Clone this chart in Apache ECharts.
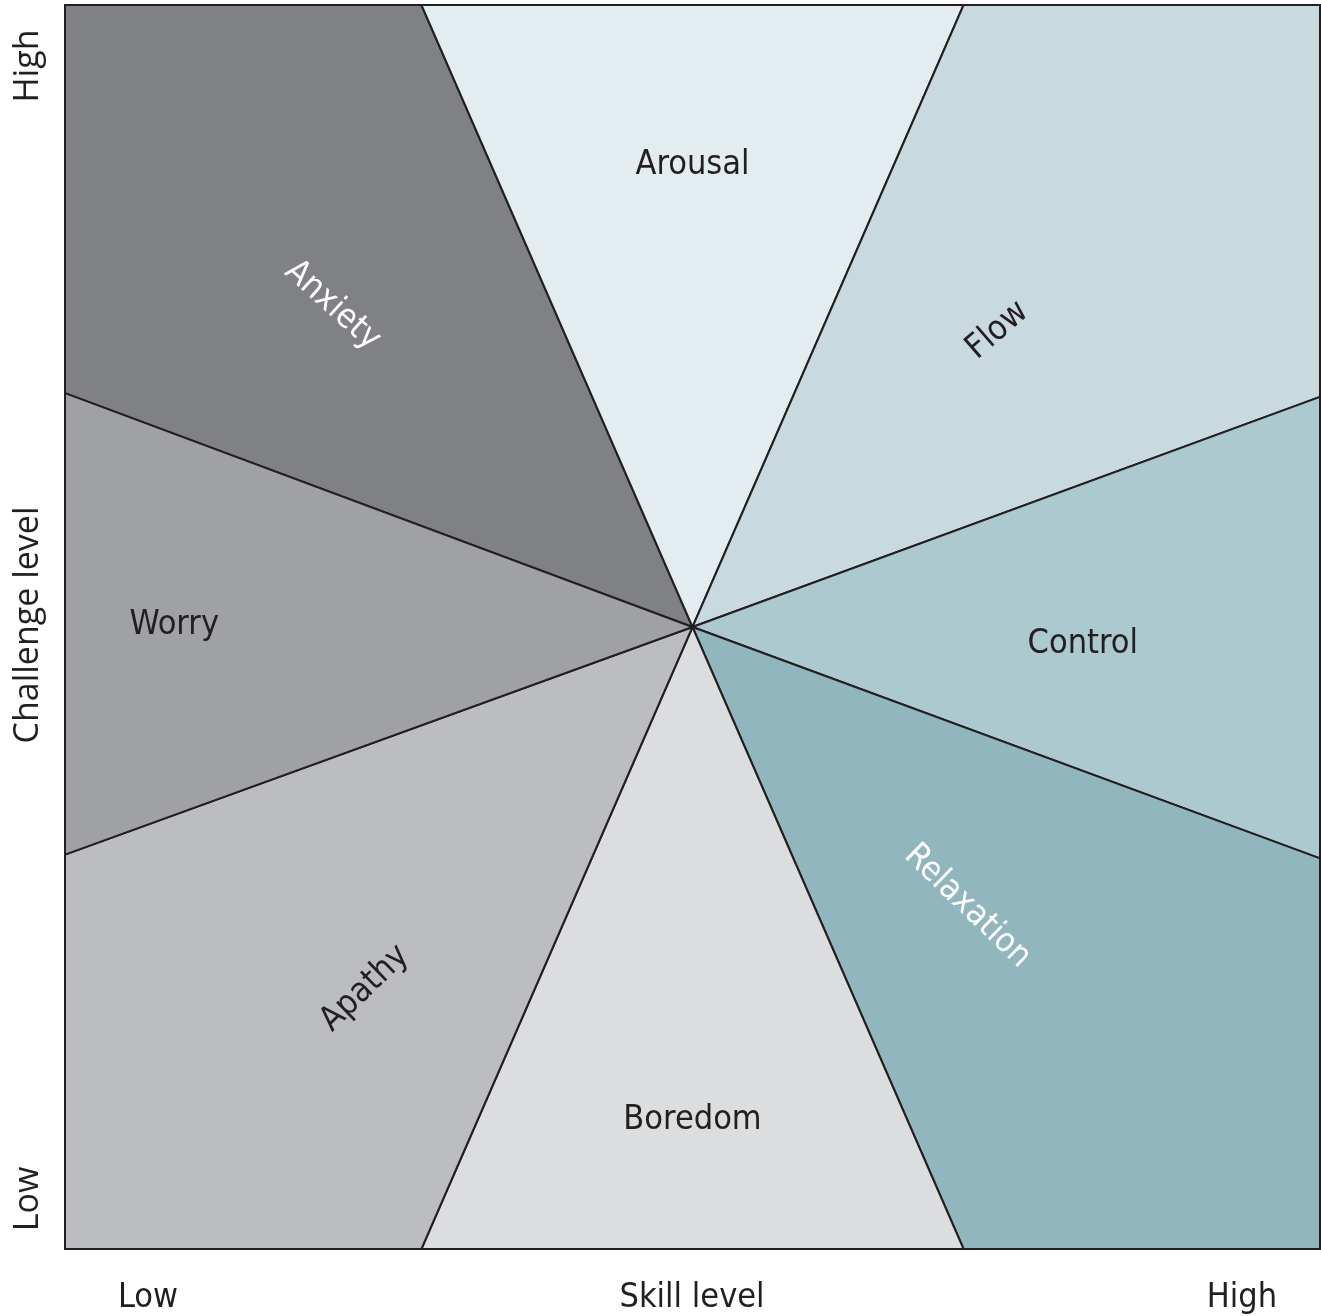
<!DOCTYPE html>
<html>
<head>
<meta charset="utf-8">
<script src="https://cdn.jsdelivr.net/npm/echarts@6/dist/echarts.min.js"></script>
<style>html,body{margin:0;padding:0;background:#fff;}#chart{width:1321px;height:1316px;}</style>
</head>
<body>
<div id="chart"></div>
<script>
// Regions of the flow model (skill level vs challenge level, 0..100 scale)
const regions = ['Anxiety', 'Arousal', 'Flow', 'Control', 'Relaxation', 'Boredom', 'Apathy', 'Worry'];
const regionColors = ['#808185', '#e3ecee', '#c8dadf', '#abc9ce', '#91b6bd', '#dcdddf', '#bcbdc1', '#a0a1a5'];
const labelColors = ['#ffffff', '#231f20', '#231f20', '#231f20', '#ffffff', '#231f20', '#231f20', '#231f20'];
// polygon vertices of each region, in [skill, challenge] values
const centre = [50, 50];
const regionVertices = [
  [centre, [0, 68.8], [0, 100], [28.4, 100]],
  [centre, [28.4, 100], [71.6, 100]],
  [centre, [71.6, 100], [100, 100], [100, 68.5]],
  [centre, [100, 68.5], [100, 31.4]],
  [centre, [100, 31.4], [100, 0], [71.6, 0]],
  [centre, [71.6, 0], [28.4, 0]],
  [centre, [28.4, 0], [0, 0], [0, 31.7]],
  [centre, [0, 31.7], [0, 68.8]]
];
// label anchor of each region, in [skill, challenge] values, and its angle (degrees)
const labelAnchors = [[21.3, 76.0], [50.0, 87.3], [74.3, 74.0], [81.1, 48.8], [71.9, 27.7], [50.0, 10.5], [23.9, 21.1], [8.7, 50.3]];
const labelAngles = [-42, 0, 41, 0, -44, 0, 44, 0];
// axis texts
const xAxisTicks = ['Low', 'Skill level', 'High'];
const yAxisTicks = ['Low', 'Challenge level', 'High'];

const condensed = '"Liberation Sans Narrow", "DejaVu Sans Condensed", sans-serif';
const wide = '"Open Sans", sans-serif';

const chart = echarts.init(document.getElementById('chart'), null, {renderer: 'canvas'});

const polyData = regions.map((name, i) => ({name: name, value: [i]}));
const labelData = regions.map((name, i) => ({name: name, value: [labelAnchors[i][0], labelAnchors[i][1], i]}));

const option = {
  animation: false,
  grid: {left: 65, top: 5, width: 1255, height: 1244, show: true, borderColor: '#231f20', borderWidth: 2, backgroundColor: 'transparent', z: 10},
  xAxis: {type: 'value', min: 0, max: 100, show: false},
  yAxis: {type: 'value', min: 0, max: 100, show: false},
  series: [
    {
      type: 'custom',
      data: polyData,
      renderItem: function (params, api) {
        const i = api.value(0);
        const pts = regionVertices[i].map(p => api.coord(p));
        return {
          type: 'polygon',
          shape: {points: pts},
          style: {fill: regionColors[i], stroke: '#231f20', lineWidth: 2, lineJoin: 'miter'}
        };
      },
      silent: true,
      z: 1
    },
    {
      type: 'custom',
      data: labelData,
      renderItem: function (params, api) {
        const i = api.value(2);
        const pt = api.coord([api.value(0), api.value(1)]);
        return {
          type: 'text',
          x: pt[0],
          y: pt[1] + 2,
          rotation: labelAngles[i] * Math.PI / 180,
          style: {
            text: regions[i],
            fill: labelColors[i],
            font: '34px ' + condensed,
            align: 'center',
            verticalAlign: 'middle',
            opacity: 1
          }
        };
      },
      silent: true,
      z: 5
    }
  ],
  graphic: [
    {type: 'text', x: 28, y: 66, rotation: Math.PI / 2, style: {text: yAxisTicks[2], font: '34px ' + wide, fill: '#231f20', align: 'center', verticalAlign: 'middle'}},
    {type: 'text', x: 28, y: 625, rotation: Math.PI / 2, style: {text: yAxisTicks[1], font: '34px ' + wide, fill: '#231f20', align: 'center', verticalAlign: 'middle'}},
    {type: 'text', x: 28, y: 1199, rotation: Math.PI / 2, style: {text: yAxisTicks[0], font: '34px ' + wide, fill: '#231f20', align: 'center', verticalAlign: 'middle'}},
    {type: 'text', x: 148, y: 1298, style: {text: xAxisTicks[0], font: '34px ' + condensed, fill: '#231f20', align: 'center', verticalAlign: 'middle'}},
    {type: 'text', x: 692, y: 1298, style: {text: xAxisTicks[1], font: '34px ' + condensed, fill: '#231f20', align: 'center', verticalAlign: 'middle'}},
    {type: 'text', x: 1242, y: 1298, style: {text: xAxisTicks[2], font: '34px ' + condensed, fill: '#231f20', align: 'center', verticalAlign: 'middle'}}
  ]
};
chart.setOption(option);
</script>
</body>
</html>
